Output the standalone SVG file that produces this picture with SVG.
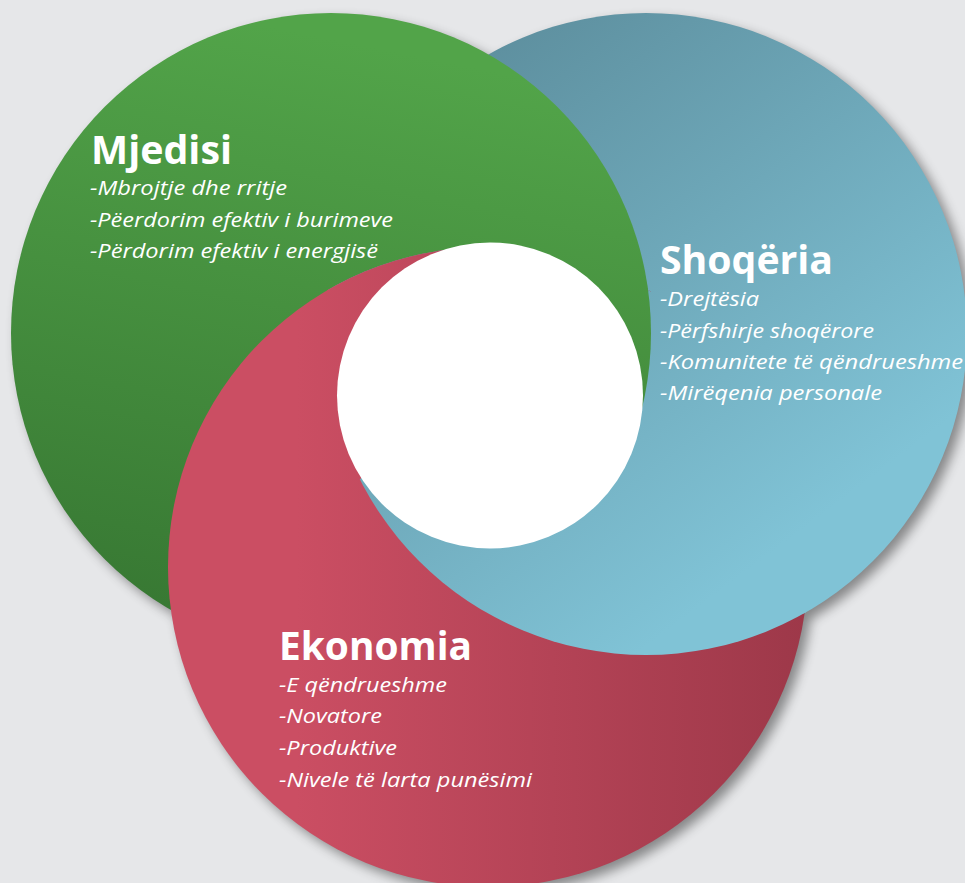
<svg xmlns="http://www.w3.org/2000/svg" width="965" height="883" viewBox="0 0 965 883">
  <defs>
    <linearGradient id="gGreen" gradientUnits="userSpaceOnUse" x1="203" y1="13" x2="75" y2="653">
      <stop offset="0" stop-color="#52a449"/>
      <stop offset="1" stop-color="#357431"/>
    </linearGradient>
    <linearGradient id="gBlue" gradientUnits="userSpaceOnUse" x1="421" y1="13" x2="806" y2="527">
      <stop offset="0" stop-color="#5a8a99"/>
      <stop offset="1" stop-color="#80c3d6"/>
    </linearGradient>
    <linearGradient id="gRed" gradientUnits="userSpaceOnUse" x1="168" y1="567" x2="808" y2="567">
      <stop offset="0.2" stop-color="#cb4e63"/>
      <stop offset="1" stop-color="#9d3849"/>
    </linearGradient>
    <circle id="cBlue" cx="646" cy="334" r="321"/>
    <circle id="cGreen" cx="331" cy="333" r="320"/>
    <circle id="cRed" cx="488" cy="567" r="320"/>
    <clipPath id="clipRed"><use href="#cRed"/></clipPath>
    <clipPath id="clipBlue"><use href="#cBlue"/></clipPath>
    <clipPath id="clipGreen"><use href="#cGreen"/></clipPath>
    <clipPath id="sectorA"><polygon points="490,395.5 490,-200 1200,-200 1200,678"/></clipPath>
    <clipPath id="sectorC"><polygon points="490,395.5 490,-200 -200,-200 -200,838"/></clipPath>
    <clipPath id="rightOfA"><rect x="651" y="0" width="400" height="883"/></clipPath>
    <filter id="shadow" x="-20%" y="-20%" width="140%" height="140%">
      <feGaussianBlur stdDeviation="6"/>
      <feOffset dx="6" dy="6"/>
      <feComponentTransfer>
        <feFuncA type="linear" slope="0.42"/>
      </feComponentTransfer>
    </filter>
    <style>
      .title { font-family: "Open Sans", "Noto Sans", "Liberation Sans", sans-serif; font-weight: bold; font-size: 39px; fill: #ffffff; }
      .item { font-family: "Open Sans", "Noto Sans", "Liberation Sans", sans-serif; font-style: italic; font-size: 20px; fill: #ffffff; }
      .seam { fill: none; stroke-width: 2.5; }
    </style>
  </defs>

  <rect x="0" y="0" width="965" height="883" fill="#e6e7e9"/>

  <g id="shadows" filter="url(#shadow)" fill="#000">
    <use href="#cBlue"/>
    <use href="#cGreen"/>
    <use href="#cRed"/>
  </g>

  <g id="shoqeria">
    <use href="#cBlue" fill="url(#gBlue)"/>
  </g>

  <g id="mjedisi">
    <use href="#cGreen" fill="url(#gGreen)"/>
  </g>

  <g id="ekonomia">
    <use href="#cRed" fill="url(#gRed)"/>
  </g>

  <g id="interlock">
    <g clip-path="url(#clipRed)">
      <use href="#cBlue" fill="url(#gBlue)"/>
    </g>
    <g clip-path="url(#rightOfA)">
      <g clip-path="url(#clipBlue)">
        <use href="#cRed" class="seam" stroke="url(#gBlue)"/>
      </g>
    </g>
    <g clip-path="url(#sectorA)">
      <g clip-path="url(#clipRed)">
        <g clip-path="url(#clipBlue)">
          <use href="#cGreen" fill="url(#gGreen)"/>
        </g>
      </g>
      <g clip-path="url(#clipGreen)">
        <g clip-path="url(#clipBlue)">
          <use href="#cRed" class="seam" stroke="url(#gGreen)"/>
        </g>
      </g>
    </g>
    <g clip-path="url(#sectorC)">
      <g clip-path="url(#clipGreen)">
        <g clip-path="url(#clipBlue)">
          <use href="#cRed" fill="url(#gRed)"/>
        </g>
        <g clip-path="url(#clipRed)">
          <use href="#cBlue" class="seam" stroke="url(#gRed)"/>
        </g>
      </g>
    </g>
  </g>

  <g id="center">
    <circle cx="490" cy="395.5" r="153" fill="#ffffff"/>
  </g>

  <g id="mjedisi-label">
    <text class="title" x="91" y="164" textLength="141" lengthAdjust="spacingAndGlyphs">Mjedisi</text>
    <text class="item" x="90" y="195" textLength="197" lengthAdjust="spacingAndGlyphs">-Mbrojtje dhe rritje</text>
    <text class="item" x="90" y="227" textLength="303" lengthAdjust="spacingAndGlyphs">-Pëerdorim efektiv i burimeve</text>
    <text class="item" x="90" y="258" textLength="288" lengthAdjust="spacingAndGlyphs">-Përdorim efektiv i energjisë</text>
  </g>

  <g id="shoqeria-label">
    <text class="title" x="660" y="274" textLength="173" lengthAdjust="spacingAndGlyphs">Shoqëria</text>
    <text class="item" x="660" y="306" textLength="99" lengthAdjust="spacingAndGlyphs">-Drejtësia</text>
    <text class="item" x="660" y="338" textLength="214" lengthAdjust="spacingAndGlyphs">-Përfshirje shoqërore</text>
    <text class="item" x="660" y="369" textLength="303" lengthAdjust="spacingAndGlyphs">-Komunitete të qëndrueshme</text>
    <text class="item" x="660" y="400" textLength="222" lengthAdjust="spacingAndGlyphs">-Mirëqenia personale</text>
  </g>

  <g id="ekonomia-label">
    <text class="title" x="279" y="660" textLength="193" lengthAdjust="spacingAndGlyphs">Ekonomia</text>
    <text class="item" x="279" y="692" textLength="168" lengthAdjust="spacingAndGlyphs">-E qëndrueshme</text>
    <text class="item" x="279" y="723" textLength="103" lengthAdjust="spacingAndGlyphs">-Novatore</text>
    <text class="item" x="279" y="755" textLength="118" lengthAdjust="spacingAndGlyphs">-Produktive</text>
    <text class="item" x="279" y="787" textLength="253" lengthAdjust="spacingAndGlyphs">-Nivele të larta punësimi</text>
  </g>

  <g id="connectors"/>
</svg>
